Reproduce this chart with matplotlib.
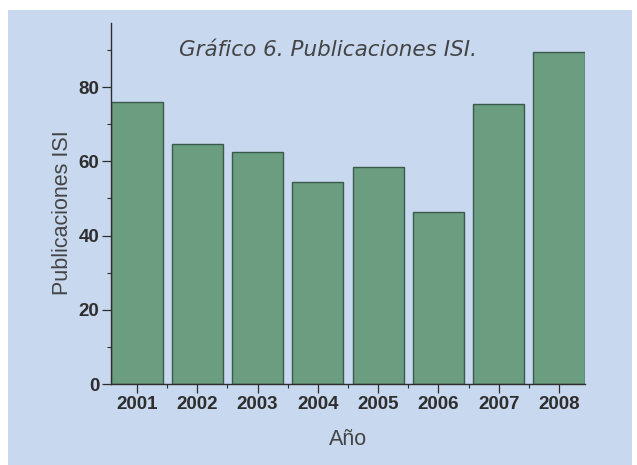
import numpy as np
import matplotlib
matplotlib.use("Agg")
import matplotlib.pyplot as plt
from matplotlib.patches import Rectangle
from matplotlib.ticker import MultipleLocator

# data
years = ["2001", "2002", "2003", "2004", "2005", "2006", "2007", "2008"]
publicaciones = [76, 64.7, 62.5, 54.5, 58.6, 46.4, 75.5, 89.4]

bg = "#c7d8ef"
bar_fill = "#6b9d80"
bar_edge = "#3b5a4c"
ink = "#2e2e2e"

fig = plt.figure(figsize=(6.37, 4.65), dpi=100, facecolor="white")

# light blue panel behind the chart (white strip above, as in the scan)
panel = Rectangle((8 / 637, 0), (632 - 8) / 637, (465 - 10) / 465,
                  transform=fig.transFigure, facecolor=bg, edgecolor="none")
panel.set_zorder(-10)
fig.add_artist(panel)

ax = fig.add_axes([111 / 637, 1 - 384 / 465, (585 - 111) / 637, (384 - 23) / 465])
ax.set_facecolor("none")
ax.set_zorder(1)

x = np.arange(1, len(years) + 1)
ax.bar(x, publicaciones, width=0.85, color=bar_fill, edgecolor=bar_edge,
       linewidth=1.0, zorder=2)

ax.set_xlim(0.57, 8.43)
ax.set_ylim(0, 97.3)

for side in ["top", "right"]:
    ax.spines[side].set_visible(False)
for side in ["left", "bottom"]:
    ax.spines[side].set_color(ink)
    ax.spines[side].set_linewidth(1.0)

ax.set_xticks(x)
ax.set_xticklabels(years)
ax.xaxis.set_minor_locator(MultipleLocator(1, offset=0.5))
ax.set_yticks([0, 20, 40, 60, 80])
ax.yaxis.set_minor_locator(MultipleLocator(10))

ax.tick_params(axis="both", which="major", direction="out", length=6.5,
               width=0.9, color=ink, labelcolor=ink, pad=2)
ax.tick_params(axis="both", which="minor", direction="out", length=3,
               width=0.8, color=ink)
for lab in ax.get_xticklabels() + ax.get_yticklabels():
    lab.set_fontfamily("Liberation Sans")
    lab.set_fontweight("bold")
    lab.set_fontsize(13.5)

ax.set_xlabel("Año", fontfamily="Liberation Sans", fontsize=15.5, color="#444444")
ax.set_ylabel("Publicaciones ISI", fontfamily="Liberation Sans", fontsize=15.5,
              color="#444444")
ax.xaxis.label.set_va("center")
ax.yaxis.label.set_va("center")
ax.xaxis.set_label_coords(0.5, -0.155)
ax.yaxis.set_label_coords(-0.103, 0.476)

fig.text(328 / 637, 1 - 50 / 465, "Gráfico 6. Publicaciones ISI.",
         fontfamily="DejaVu Sans", style="italic", fontsize=15.5,
         color="#444444", ha="center", va="center")

fig.savefig("out.png", dpi=100, facecolor="white")
